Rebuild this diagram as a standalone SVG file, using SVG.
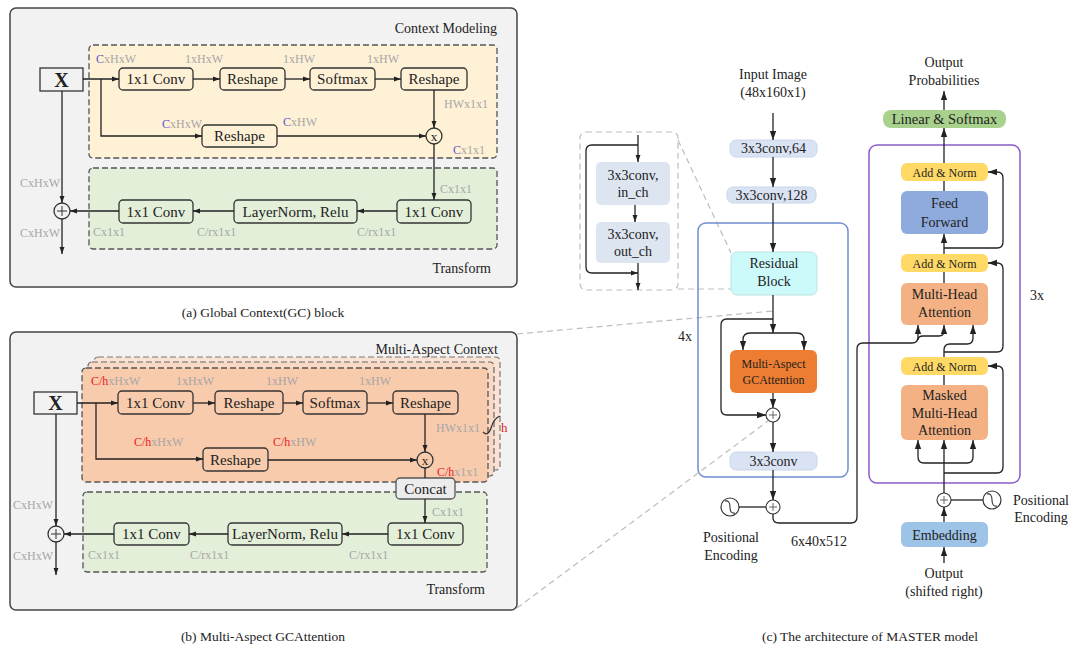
<svg xmlns="http://www.w3.org/2000/svg" width="1087" height="650" viewBox="0 0 1087 650">
<defs>
<style>
.t{font-family:"Liberation Serif","Times New Roman",serif;fill:#222}
.c{text-anchor:middle}
.e{text-anchor:end}
.dim{font-size:12px;fill:#a6a6a6}
.bl{fill:#5b57c9}
.rd{fill:#e8211d}
.f15{font-size:15px}
.f14{font-size:14px}
.f12{font-size:12px}
.ln{fill:none;stroke:#222;stroke-width:1.3}
.a{marker-end:url(#ah)}
.b{marker-end:url(#ah2)}
.nd{stroke:#333;stroke-width:1.3}
.dash{stroke:#555;stroke-width:1.3;stroke-dasharray:6 3}
.gd{fill:none;stroke:#bdbdbd;stroke-width:1.2;stroke-dasharray:6 4}
</style>
<marker id="ah" viewBox="0 0 10 10" refX="10" refY="5" markerWidth="7" markerHeight="7" markerUnits="userSpaceOnUse" orient="auto"><path d="M0,1.5 L10,5 L0,8.5 z" fill="#222"/></marker>
<marker id="ah2" viewBox="0 0 10 10" refX="10" refY="5" markerWidth="9" markerHeight="9" markerUnits="userSpaceOnUse" orient="auto"><path d="M0,1.5 L10,5 L0,8.5 z" fill="#222"/></marker>
</defs>
<rect width="1087" height="650" fill="#fff"/>

<!-- ============ Panel (a) ============ -->
<g id="panel-a">
<rect x="10" y="8" width="507" height="279" rx="6" fill="#f2f2f2" stroke="#444" stroke-width="1.5"/>
<rect x="89" y="45" width="408" height="113" rx="4" fill="#fef1d6" class="dash"/>
<rect x="89" y="168" width="408" height="81" rx="4" fill="#e3efd9" class="dash"/>
<text x="497" y="33" class="t e f14">Context Modeling</text>
<text x="491" y="273" class="t e f14">Transform</text>
</g>
<g id="a-x"><rect x="40" y="68" width="43" height="23" fill="#f2f2f2" class="nd"/><text x="61.5" y="87" class="t c" font-size="20" font-weight="bold">X</text></g>
<g id="a-conv1"><rect x="119" y="68" width="74" height="22" rx="4" fill="#fef1d6" class="nd"/><text x="156" y="84" class="t c f15">1x1 Conv</text></g>
<g id="a-reshape1"><rect x="220" y="68" width="65" height="22" rx="4" fill="#fef1d6" class="nd"/><text x="252.5" y="84" class="t c f15">Reshape</text></g>
<g id="a-softmax"><rect x="310" y="68" width="65" height="22" rx="4" fill="#fef1d6" class="nd"/><text x="342.5" y="84" class="t c f15">Softmax</text></g>
<g id="a-reshape2"><rect x="401" y="68" width="66" height="22" rx="4" fill="#fef1d6" class="nd"/><text x="434" y="84" class="t c f15">Reshape</text></g>
<g id="a-reshape3"><rect x="202" y="125" width="75" height="22" rx="4" fill="#fef1d6" class="nd"/><text x="239.5" y="141" class="t c f15">Reshape</text></g>
<g id="a-mul"><circle cx="434" cy="136" r="8" fill="#fef1d6" class="nd"/><text x="434" y="140.5" class="t c" font-size="13">x</text></g>
<g id="a-conv2"><rect x="397" y="200" width="74" height="23" rx="4" fill="#e3efd9" class="nd"/><text x="434" y="216.5" class="t c f15">1x1 Conv</text></g>
<g id="a-ln"><rect x="234" y="200" width="123" height="23" rx="4" fill="#e3efd9" class="nd"/><text x="295.5" y="216.5" class="t c f15">LayerNorm, Relu</text></g>
<g id="a-conv3"><rect x="119" y="200" width="74" height="23" rx="4" fill="#e3efd9" class="nd"/><text x="156" y="216.5" class="t c f15">1x1 Conv</text></g>
<g id="a-plus"><circle cx="62" cy="211" r="8" fill="#f2f2f2" class="nd"/><path d="M57,211 H67 M62,206 V216" stroke="#333" stroke-width="1"/></g>

<g id="a-labels" class="t dim">
<text x="96" y="63"><tspan class="bl">C</tspan>xHxW</text>
<text x="185" y="63">1xHxW</text>
<text x="283" y="63">1xHW</text>
<text x="367" y="63">1xHW</text>
<text x="162" y="128"><tspan class="bl">C</tspan>xHxW</text>
<text x="283" y="126"><tspan class="bl">C</tspan>xHW</text>
<text x="444" y="108">HWx1x1</text>
<text x="453" y="154"><tspan class="bl">C</tspan>x1x1</text>
<text x="440" y="193">Cx1x1</text>
<text x="93" y="236">Cx1x1</text>
<text x="197" y="236">C/rx1x1</text>
<text x="357" y="236">C/rx1x1</text>
<text x="20" y="187">CxHxW</text>
<text x="20" y="237">CxHxW</text>
</g>

<!-- ============ Panel (b) ============ -->
<g id="panel-b">
<rect x="10" y="332" width="507" height="278" rx="6" fill="#f2f2f2" stroke="#444" stroke-width="1.5"/>
<rect x="94" y="357" width="406" height="113" rx="4" fill="#fae3d5" stroke="#777" stroke-width="1.2" stroke-dasharray="6 3"/>
<rect x="88" y="362" width="406" height="114" rx="4" fill="#f9d9c5" stroke="#666" stroke-width="1.2" stroke-dasharray="6 3"/>
<rect x="82" y="368" width="406" height="114" rx="4" fill="#f8cbad" class="dash"/>
<rect x="83" y="492" width="404" height="80" rx="4" fill="#e3efd9" class="dash"/>
<text x="498" y="354" class="t e f14">Multi-Aspect Context</text>
<text x="485" y="594" class="t e f14">Transform</text>
<path d="M483,432 Q488,437 491,428 Q494,418 500,416" fill="none" stroke="#333" stroke-width="1.3"/>
<text x="501" y="432" class="t rd" font-size="13">h</text>
</g>
<g id="b-x"><rect x="34" y="392" width="43" height="22" fill="#f2f2f2" class="nd"/><text x="55.5" y="410" class="t c" font-size="20" font-weight="bold">X</text></g>
<g id="b-conv1"><rect x="118" y="391" width="75" height="23" rx="4" fill="#f8cbad" class="nd"/><text x="155.5" y="407.5" class="t c f15">1x1 Conv</text></g>
<g id="b-reshape1"><rect x="215" y="391" width="68" height="23" rx="4" fill="#f8cbad" class="nd"/><text x="249" y="407.5" class="t c f15">Reshape</text></g>
<g id="b-softmax"><rect x="303" y="391" width="64" height="23" rx="4" fill="#f8cbad" class="nd"/><text x="335" y="407.5" class="t c f15">Softmax</text></g>
<g id="b-reshape2"><rect x="393" y="391" width="65" height="23" rx="4" fill="#f8cbad" class="nd"/><text x="425.5" y="407.5" class="t c f15">Reshape</text></g>
<g id="b-reshape3"><rect x="203" y="448" width="65" height="23" rx="4" fill="#f8cbad" class="nd"/><text x="235.5" y="464.5" class="t c f15">Reshape</text></g>
<g id="b-mul"><circle cx="425" cy="460" r="8" fill="#f8cbad" class="nd"/><text x="425" y="464.5" class="t c" font-size="13">x</text></g>
<g id="b-concat"><rect x="396" y="478" width="59" height="21" rx="4" fill="#ececec" stroke="#555" stroke-width="1.3"/><text x="425.5" y="494" class="t c f15">Concat</text></g>
<g id="b-conv2"><rect x="388" y="523" width="75" height="22" rx="4" fill="#e3efd9" class="nd"/><text x="425.5" y="539" class="t c f15">1x1 Conv</text></g>
<g id="b-ln"><rect x="228" y="523" width="114" height="22" rx="4" fill="#e3efd9" class="nd"/><text x="285" y="539" class="t c f15">LayerNorm, Relu</text></g>
<g id="b-conv3"><rect x="114" y="523" width="75" height="22" rx="4" fill="#e3efd9" class="nd"/><text x="151.5" y="539" class="t c f15">1x1 Conv</text></g>
<g id="b-plus"><circle cx="56" cy="534" r="8" fill="#f2f2f2" class="nd"/><path d="M51,534 H61 M56,529 V539" stroke="#333" stroke-width="1"/></g>

<g id="b-labels" class="t dim">
<text x="91" y="385"><tspan class="rd">C/h</tspan>xHxW</text>
<text x="176" y="385">1xHxW</text>
<text x="266" y="385">1xHW</text>
<text x="359" y="385">1xHW</text>
<text x="134" y="446"><tspan class="rd">C/h</tspan>xHxW</text>
<text x="273" y="446"><tspan class="rd">C/h</tspan>xHW</text>
<text x="436" y="432">HWx1x1</text>
<text x="437" y="476"><tspan class="rd">C/h</tspan>x1x1</text>
<text x="432" y="516">Cx1x1</text>
<text x="88" y="559">Cx1x1</text>
<text x="190" y="559">C/rx1x1</text>
<text x="349" y="559">C/rx1x1</text>
<text x="13" y="509">CxHxW</text>
<text x="13" y="560">CxHxW</text>
</g>

<!-- captions -->
<text x="263" y="317" class="t c" font-size="13.5">(a) Global Context(GC) block</text>
<text x="263" y="641" class="t c" font-size="13.5">(b) Multi-Aspect GCAttention</text>
<text x="870" y="641" class="t c" font-size="13.5">(c) The architecture of MASTER model</text>

<!-- ============ Panel (c) frames ============ -->
<g id="zoom-guides">
<path class="gd" d="M517,334 L773,311"/>
<path class="gd" d="M517,608 L768,421"/>
<rect x="580" y="132" width="98" height="158" rx="6" class="gd"/>
<path class="gd" d="M678,140 L731,253"/>
<path class="gd" d="M678,289 L731,289"/>
</g>
<g id="encoder-frame">
<rect x="698" y="223" width="150" height="254" rx="8" fill="none" stroke="#6f8fcf" stroke-width="1.5"/>
<text x="685" y="341" class="t c f14">4x</text>
</g>
<g id="decoder-frame">
<rect x="869" y="145" width="151" height="338" rx="8" fill="none" stroke="#8b5cc8" stroke-width="1.5"/>
<text x="1037" y="300" class="t c f14">3x</text>
</g>

<!-- residual detail -->
<g id="res-inch"><rect x="596" y="162" width="74" height="43" rx="5" fill="#dde5f0"/><text x="633" y="180" class="t c f14">3x3conv,</text><text x="633" y="197" class="t c f14">in_ch</text></g>
<g id="res-outch"><rect x="596" y="222" width="74" height="41" rx="5" fill="#dde5f0"/><text x="633" y="239" class="t c f14">3x3conv,</text><text x="633" y="256" class="t c f14">out_ch</text></g>

<!-- encoder -->
<g id="input-label"><text x="773" y="79" class="t c f14">Input Image</text><text x="773" y="97" class="t c f14">(48x160x1)</text></g>
<g id="enc-conv64"><rect x="730" y="140" width="87" height="17" rx="6" fill="#dae3f3" stroke="#c9d6ea"/><text x="773.5" y="153" class="t c f14">3x3conv,64</text></g>
<g id="enc-conv128"><rect x="727" y="187" width="89" height="16" rx="6" fill="#dae3f3" stroke="#c9d6ea"/><text x="771.5" y="199.5" class="t c f14">3x3conv,128</text></g>
<g id="enc-res"><rect x="731" y="252" width="86" height="43" rx="6" fill="#ccfafa" stroke="#bde3e3"/><text x="774" y="268" class="t c f14">Residual</text><text x="774" y="286" class="t c f14">Block</text></g>
<g id="enc-magc"><rect x="730" y="350" width="87" height="43" rx="6" fill="#ed7d31"/><text x="773.5" y="368" class="t c f12" fill="#3a1a00">Multi-Aspect</text><text x="773.5" y="384" class="t c f12" fill="#3a1a00">GCAttention</text></g>
<g id="enc-plus1"><circle cx="773" cy="415" r="7" fill="#fff" stroke="#333" stroke-width="1.1"/><path d="M769,415 H777 M773,411 V419" stroke="#555" stroke-width="0.9"/></g>
<g id="enc-conv3"><rect x="730" y="452" width="87" height="18" rx="6" fill="#dae3f3" stroke="#c9d6ea"/><text x="773.5" y="466" class="t c f14">3x3conv</text></g>
<g id="enc-plus2"><circle cx="773" cy="507" r="7" fill="#fff" stroke="#333" stroke-width="1.1"/><path d="M769,507 H777 M773,503 V511" stroke="#555" stroke-width="0.9"/></g>
<g id="enc-pe"><circle cx="730" cy="507" r="9" fill="#fff" stroke="#333" stroke-width="1.2"/><path d="M725,501 Q730,500 730,507 Q730,514 735,513" fill="none" stroke="#333" stroke-width="1.1"/><text x="731" y="542" class="t c f14">Positional</text><text x="731" y="560" class="t c f14">Encoding</text></g>
<text id="enc-shape" x="819" y="546" class="t c f14">6x40x512</text>

<!-- decoder -->
<g id="out-label"><text x="944" y="67" class="t c f14">Output</text><text x="944" y="85" class="t c f14">Probabilities</text></g>
<g id="dec-linear"><rect x="883" y="110" width="123" height="18" rx="8" fill="#a9d18e"/><text x="944.5" y="124" class="t c" font-size="14.5">Linear &amp; Softmax</text></g>
<g id="dec-an1"><rect x="901" y="163" width="87" height="18" rx="6" fill="#ffd966"/><text x="944.5" y="176.5" class="t c f12">Add &amp; Norm</text></g>
<g id="dec-ff"><rect x="901" y="191" width="87" height="43" rx="6" fill="#8faadc"/><text x="944.5" y="208" class="t c f14">Feed</text><text x="944.5" y="227" class="t c f14">Forward</text></g>
<g id="dec-an2"><rect x="901" y="254" width="87" height="18" rx="6" fill="#ffd966"/><text x="944.5" y="267.5" class="t c f12">Add &amp; Norm</text></g>
<g id="dec-mha"><rect x="901" y="283" width="87" height="42" rx="6" fill="#f4b183"/><text x="944.5" y="299" class="t c f14">Multi-Head</text><text x="944.5" y="317" class="t c f14">Attention</text></g>
<g id="dec-an3"><rect x="901" y="357" width="87" height="18" rx="6" fill="#ffd966"/><text x="944.5" y="370.5" class="t c f12">Add &amp; Norm</text></g>
<g id="dec-mmha"><rect x="901" y="385" width="87" height="55" rx="6" fill="#f4b183"/><text x="944.5" y="400" class="t c f14">Masked</text><text x="944.5" y="418" class="t c f14">Multi-Head</text><text x="944.5" y="435" class="t c f14">Attention</text></g>
<g id="dec-plus"><circle cx="944" cy="500" r="7" fill="#fff" stroke="#333" stroke-width="1.1"/><path d="M940,500 H948 M944,496 V504" stroke="#555" stroke-width="0.9"/></g>
<g id="dec-pe"><circle cx="992" cy="500" r="9" fill="#fff" stroke="#333" stroke-width="1.2"/><path d="M987,494 Q992,493 992,500 Q992,507 997,506" fill="none" stroke="#333" stroke-width="1.1"/><text x="1041" y="505" class="t c f14">Positional</text><text x="1041" y="522" class="t c f14">Encoding</text></g>
<g id="dec-emb"><rect x="901" y="522" width="87" height="25" rx="6" fill="#9dc3e6"/><text x="944.5" y="539.5" class="t c f14">Embedding</text></g>
<g id="shifted-label"><text x="944" y="578" class="t c f14">Output</text><text x="944" y="596" class="t c f14">(shifted right)</text></g>

<!-- ============ connectors ============ -->
<g id="connectors" class="ln">
<!-- a -->
<path class="a" d="M83,79 H119"/>
<path class="a" d="M193,79 H220"/>
<path class="a" d="M285,79 H310"/>
<path class="a" d="M375,79 H401"/>
<path class="a" d="M101,79 V136 H202"/>
<path class="a" d="M277,136 H426"/>
<path class="a" d="M434,90 V128"/>
<path class="a" d="M434,144 V200"/>
<path class="a" d="M397,211 H357"/>
<path class="a" d="M234,211 H193"/>
<path class="a" d="M119,211 H70"/>
<path class="a" d="M62,91 V203"/>
<path class="a" d="M62,219 V254"/>
<!-- b -->
<path class="a" d="M77,403 H118"/>
<path class="a" d="M193,403 H215"/>
<path class="a" d="M283,403 H303"/>
<path class="a" d="M367,403 H393"/>
<path class="a" d="M96,403 V459 H203"/>
<path class="a" d="M268,460 H417"/>
<path class="a" d="M425,414 V452"/>
<path d="M425,468 V478"/>
<path class="a" d="M425,499 V523"/>
<path class="a" d="M388,534 H342"/>
<path class="a" d="M228,534 H189"/>
<path class="a" d="M114,534 H64"/>
<path class="a" d="M56,414 V526"/>
<path class="a" d="M56,542 V575"/>
<!-- residual detail -->
<path class="a" d="M638,135 V162"/>
<path class="a" d="M635,205 V222"/>
<path class="a" d="M638,263 V290"/>
<path class="a" d="M638,145 H592 Q586,145 586,151 V267 Q586,273 592,273 H638"/>
<!-- encoder -->
<path class="b" d="M773,113 V140"/>
<path class="b" d="M773,157 V187"/>
<path class="b" d="M773,203 V252"/>
<path class="b" d="M773,295 V333"/>
<path class="b" d="M773,333 H750 Q743,333 743,340 V350"/>
<path class="b" d="M773,333 H797 Q804,333 804,340 V350"/>
<path class="b" d="M773,319 H727 Q721,319 721,325 V409 Q721,415 727,415 H766"/>
<path class="b" d="M773,393 V408"/>
<path class="b" d="M773,422 V452"/>
<path class="b" d="M773,470 V500"/>
<path d="M739,507 H766"/>
<path class="b" d="M773,514 V518 Q773,523 779,523 H851 Q857,523 857,517 V349 Q857,343 863,343 H912 Q918,343 918,337 V325"/>
<path class="b" d="M918,340 Q918,336 923,336 H939 Q944,336 944,331 V325"/>
<!-- decoder -->
<path class="b" d="M944,110 V91"/>
<path class="b" d="M944,163 V128"/>
<path d="M944,191 V181"/>
<path class="b" d="M944,254 V234"/>
<path class="b" d="M944,248 H997 Q1003,248 1003,242 V178 Q1003,172 997,172 H988"/>
<path d="M944,283 V272"/>
<path class="b" d="M944,357 V350 Q944,344 950,344 H967 Q973,344 973,338 V325"/>
<path class="b" d="M944,352 H997 Q1003,352 1003,346 V269 Q1003,263 997,263 H988"/>
<path d="M944,385 V375"/>
<path class="b" d="M944,493 V440"/>
<path class="b" d="M944,463 H924 Q918,463 918,457 V440"/>
<path class="b" d="M944,463 H967 Q973,463 973,457 V440"/>
<path class="b" d="M944,473 H997 Q1003,473 1003,467 V372 Q1003,366 997,366 H988"/>
<path d="M983,500 H951"/>
<path class="b" d="M944,522 V507"/>
<path class="b" d="M944,563 V547"/>
</g>
</svg>
